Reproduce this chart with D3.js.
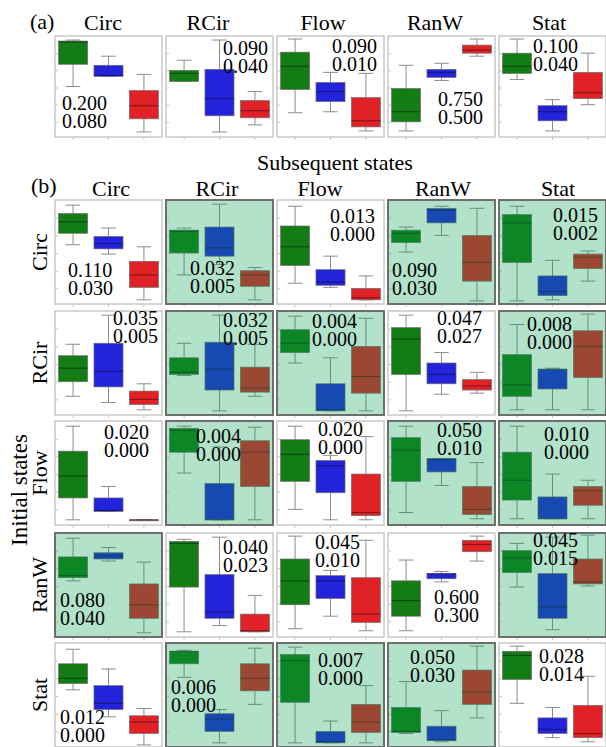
<!DOCTYPE html>
<html>
<head>
<meta charset="utf-8">
<script src="https://cdn.jsdelivr.net/npm/d3@7"></script>
<style>
  body { margin: 0; background: #fff; }
  svg { display: block; }
  text { font-family: "Liberation Serif", "Times New Roman", serif; fill: #000; }
</style>
</head>
<body>
<svg id="chart" width="606" height="747"></svg>
<script>
const STATES = ["Circ", "RCir", "Flow", "RanW", "Stat"];

// each box: [low whisker, q1, median, q3, high whisker], scaled 0..100 per panel
// (a) one triple (green, blue, red) per state
const topBoxes = [
  [[50, 72, 94, 95, 96], [60, 60, 61, 71, 80], [5, 18, 31, 46, 62]],
  [[55, 55, 63, 66, 76], [5, 21, 38, 67, 96], [12, 19, 26, 36, 45]],
  [[24, 47, 70, 84, 97], [25, 35, 45, 54, 64], [6, 10, 16, 39, 63]],
  [[6, 15, 25, 48, 71], [56, 59, 64, 67, 73], [80, 83, 86, 91, 97]],
  [[57, 63, 70, 83, 97], [6, 16, 25, 31, 37], [32, 38, 44, 64, 83]]
];
const topPvals = [
  ["0.200", "0.080"], ["0.090", "0.040"], ["0.090", "0.010"], ["0.750", "0.500"], ["0.100", "0.040"]
];

// (b) rows = initial state, columns = subsequent state
const gridBoxes = [
  [
    [[57, 68, 79, 87, 95], [48, 53, 58, 65, 73], [4, 16, 28, 41, 55]],
    [[28, 49, 70, 71, 73], [38, 46, 54, 74, 96], [4, 17, 28, 32, 35]],
    [[20, 37, 55, 75, 94], [16, 18, 21, 33, 46], [4, 4, 6, 15, 27]],
    [[50, 59, 68, 71, 74], [66, 78, 90, 92, 94], [3, 22, 40, 66, 92]],
    [[3, 40, 78, 86, 94], [4, 8, 12, 27, 42], [22, 34, 45, 48, 51]]
  ],
  [
    [[18, 32, 45, 57, 68], [12, 27, 42, 69, 96], [5, 10, 15, 23, 30]],
    [[38, 39, 41, 55, 69], [4, 24, 44, 70, 96], [18, 22, 26, 46, 68]],
    [[50, 60, 69, 82, 95], [4, 4, 5, 30, 55], [4, 21, 37, 66, 93]],
    [[4, 39, 73, 84, 96], [20, 30, 39, 50, 60], [21, 24, 28, 34, 41]],
    [[5, 18, 29, 58, 87], [5, 25, 44, 44, 45], [5, 36, 66, 81, 97]]
  ],
  [
    [[5, 26, 47, 71, 95], [13, 13, 14, 26, 37], [5, 5, 5, 5, 5]],
    [[50, 70, 91, 93, 95], [5, 5, 5, 40, 75], [5, 37, 70, 81, 94]],
    [[15, 42, 68, 82, 95], [5, 31, 57, 62, 67], [5, 9, 12, 49, 85]],
    [[12, 42, 72, 84, 95], [38, 51, 63, 64, 64], [6, 10, 15, 37, 60]],
    [[6, 24, 43, 70, 95], [6, 6, 6, 27, 49], [6, 19, 33, 37, 43]]
  ],
  [
    [[54, 57, 59, 77, 95], [73, 75, 78, 81, 86], [4, 18, 31, 51, 72]],
    [[5, 48, 90, 92, 94], [11, 18, 24, 60, 96], [5, 5, 6, 22, 40]],
    [[8, 31, 54, 75, 97], [20, 37, 54, 59, 64], [6, 14, 22, 57, 93]],
    [[6, 20, 35, 54, 74], [53, 56, 61, 61, 63], [73, 82, 89, 93, 97]],
    [[48, 62, 76, 83, 90], [7, 18, 29, 61, 96], [49, 51, 53, 75, 98]]
  ],
  [
    [[55, 61, 66, 80, 94], [29, 36, 42, 59, 75], [2, 13, 24, 30, 37]],
    [[67, 80, 92, 92, 93], [4, 15, 27, 32, 36], [41, 54, 66, 80, 95]],
    [[4, 43, 83, 89, 96], [4, 4, 5, 15, 25], [4, 14, 24, 41, 59]],
    [[13, 14, 15, 38, 63], [5, 6, 7, 20, 35], [28, 41, 53, 74, 97]],
    [[42, 65, 88, 92, 97], [9, 13, 17, 28, 38], [5, 9, 13, 40, 68]]
  ]
];
const gridPvals = [
  [["0.110", "0.030"], ["0.032", "0.005"], ["0.013", "0.000"], ["0.090", "0.030"], ["0.015", "0.002"]],
  [["0.035", "0.005"], ["0.032", "0.005"], ["0.004", "0.000"], ["0.047", "0.027"], ["0.008", "0.000"]],
  [["0.020", "0.000"], ["0.004", "0.000"], ["0.020", "0.000"], ["0.050", "0.010"], ["0.010", "0.000"]],
  [["0.080", "0.040"], ["0.040", "0.023"], ["0.045", "0.010"], ["0.600", "0.300"], ["0.045", "0.015"]],
  [["0.012", "0.000"], ["0.006", "0.000"], ["0.007", "0.000"], ["0.050", "0.030"], ["0.028", "0.014"]]
];
// shaded (significant) transitions
const highlighted = [
  [0, 1, 0, 1, 1],
  [0, 1, 1, 0, 1],
  [0, 1, 0, 1, 1],
  [1, 0, 0, 0, 1],
  [0, 1, 1, 1, 0]
];

// layout
const BOX_COLORS = ["#137c15", "#2323dc", "#e02227"];
const COL_X = [55, 166, 277, 388, 499];
const PANEL_W = 107;
const TOP_Y = 36, TOP_H = 101;
const ROW_Y = [200, 311, 421, 533, 643];
const ROW_H = 104;
const TITLE_X_A = [103, 208, 323, 435, 549];
const TITLE_X_B = [111, 217, 320, 443, 558];
// where the two p-value lines start inside each panel [dx, baseline dy]
const topSpots = [[7, 74], [57, 19], [55, 17], [50, 70], [34, 17]];
const gridSpots = [
  [[13, 77], [24, 75], [53, 23], [4, 77], [54, 22]],
  [[58, 14], [57, 16], [35, 17], [49, 14], [28, 20]],
  [[49, 18], [30, 22], [41, 15], [49, 16], [45, 20]],
  [[5, 74], [57, 21], [38, 16], [46, 71], [34, 14]],
  [[5, 81], [5, 51], [41, 24], [22, 21], [40, 20]]
];

const svg = d3.select("#chart");

const x = d3.scaleBand().domain([0, 1, 2]).range([0, PANEL_W])
  .paddingInner(0.18).paddingOuter(0.1);

function drawPanel(px, py, h, boxes, pvals, spot, shaded) {
  const g = svg.append("g").attr("transform", `translate(${px},${py})`);
  const y = d3.scaleLinear().domain([0, 100]).range([h, 0]);

  g.append("rect").attr("width", PANEL_W).attr("height", h).attr("fill", "#fff");

  // faint axis ticks
  g.append("g")
    .call(d3.axisLeft(y).tickValues([15, 32, 49, 66, 83]).tickSize(-3).tickFormat(""))
    .call(s => s.select(".domain").remove())
    .selectAll("line").attr("stroke", "#c4c4c4");
  g.append("g").attr("transform", `translate(0,${h})`)
    .call(d3.axisBottom(x).tickSize(3).tickFormat(""))
    .call(s => s.select(".domain").remove())
    .selectAll("line").attr("stroke", "#c4c4c4");

  const bw = x.bandwidth();
  boxes.forEach((b, i) => {
    const cx = x(i) + bw / 2;
    const [lo, q1, med, q3, hi] = b;
    g.append("line").attr("x1", cx).attr("x2", cx)
      .attr("y1", y(lo)).attr("y2", y(hi))
      .attr("stroke", "#8c8c8c").attr("stroke-width", 1);
    [lo, hi].forEach(v => {
      g.append("line").attr("x1", cx - bw / 4).attr("x2", cx + bw / 4)
        .attr("y1", y(v)).attr("y2", y(v))
        .attr("stroke", "#8c8c8c").attr("stroke-width", 1);
    });
    g.append("rect").attr("x", x(i)).attr("width", bw)
      .attr("y", y(q3)).attr("height", Math.max(1, y(q1) - y(q3)))
      .attr("fill", BOX_COLORS[i]).attr("stroke", "#6f6f6f").attr("stroke-width", 0.7);
    g.append("line").attr("x1", x(i)).attr("x2", x(i) + bw)
      .attr("y1", y(med)).attr("y2", y(med))
      .attr("stroke", "rgba(0,0,0,0.4)").attr("stroke-width", 1.2);
  });

  if (shaded) {
    g.append("rect").attr("width", PANEL_W).attr("height", h)
      .attr("fill", "rgba(0,160,80,0.3)")
      .attr("stroke", "#6e6e6e").attr("stroke-width", 2);
  } else {
    g.append("rect").attr("width", PANEL_W).attr("height", h)
      .attr("fill", "none").attr("stroke", "#c8c8c8").attr("stroke-width", 1.5);
  }

  // both p-values in one text block, stacked tightly like the original
  const t = g.append("text").attr("font-size", 20);
  t.append("tspan").attr("x", spot[0]).attr("y", spot[1]).text(pvals[0]);
  t.append("tspan").attr("x", spot[0]).attr("dy", 18).text(pvals[1]);
}

// (a)
svg.append("text").attr("x", 30).attr("y", 29).attr("font-size", 22).text("(a)");
STATES.forEach((s, j) => {
  svg.append("text").attr("x", TITLE_X_A[j]).attr("y", 30)
    .attr("text-anchor", "middle").attr("font-size", 22).text(s);
  drawPanel(COL_X[j], TOP_Y, TOP_H, topBoxes[j], topPvals[j], topSpots[j], false);
});

// (b)
svg.append("text").attr("x", 335).attr("y", 170)
  .attr("text-anchor", "middle").attr("font-size", 22).text("Subsequent states");
svg.append("text").attr("x", 31).attr("y", 193).attr("font-size", 22).text("(b)");
STATES.forEach((s, j) => {
  svg.append("text").attr("x", TITLE_X_B[j]).attr("y", 196)
    .attr("text-anchor", "middle").attr("font-size", 22).text(s);
});
STATES.forEach((s, r) => {
  svg.append("text")
    .attr("transform", `translate(47,${ROW_Y[r] + ROW_H / 2}) rotate(-90)`)
    .attr("text-anchor", "middle").attr("font-size", 22).text(s);
  STATES.forEach((_, c) => {
    drawPanel(COL_X[c], ROW_Y[r], ROW_H, gridBoxes[r][c], gridPvals[r][c],
      gridSpots[r][c], highlighted[r][c] === 1);
  });
});
svg.append("text")
  .attr("transform", "translate(27,490) rotate(-90)")
  .attr("text-anchor", "middle").attr("font-size", 23).text("Initial states");
</script>
</body>
</html>
